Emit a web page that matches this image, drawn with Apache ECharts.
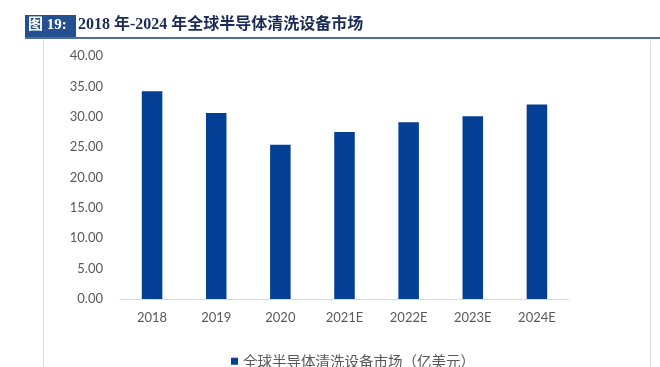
<!DOCTYPE html>
<html>
<head>
<meta charset="utf-8">
<script src="https://cdn.jsdelivr.net/npm/echarts@6/dist/echarts.min.js"></script>
<style>html,body{margin:0;padding:0;background:#fff}#c{width:660px;height:367px}</style>
</head>
<body>
<div id="c"></div>
<script>
var categories = ['2018', '2019', '2020', '2021E', '2022E', '2023E', '2024E'];
var values = [34.2, 30.6, 25.4, 27.5, 29.1, 30.1, 32.0];
var seriesName = '全球半导体清洗设备市场（亿美元）';
var titleTag = '图 19:';
var titleText = '2018 年-2024 年全球半导体清洗设备市场';
var yMin = 0, yMax = 40, yStep = 5;

var chart = echarts.init(document.getElementById('c'), null, {renderer: 'canvas'});
chart.setOption({
  animation: false,
  backgroundColor: '#ffffff',
  graphic: [
    {type: 'rect', left: 25, top: 15, shape: {width: 51, height: 23}, style: {fill: '#24508f'}},
    {type: 'text', left: 28, top: 18, style: {text: titleTag, fill: '#ffffff', font: 'bold 15px "Liberation Serif", "Noto Sans CJK SC"'}},
    {type: 'text', left: 78, top: 17, style: {text: titleText, fill: '#1b2b55', font: 'bold 16px "Liberation Serif", "Noto Sans CJK SC"'}},
    {type: 'rect', left: 25, top: 37, shape: {width: 635, height: 2}, style: {fill: '#4d6f96'}},
    {type: 'rect', left: 43, top: 39, shape: {width: 1, height: 328}, style: {fill: '#dcdcdc'}},
    {type: 'rect', left: 650, top: 39, shape: {width: 1, height: 328}, style: {fill: '#dcdcdc'}}
  ],
  grid: {left: 120, right: 91, top: 56, bottom: 68},
  legend: {
    show: true,
    top: 349,
    left: 226,
    itemWidth: 7,
    itemHeight: 7,
    itemGap: 4,
    icon: 'rect',
    textStyle: {color: '#595959', fontSize: 14.5, fontFamily: '"Noto Sans CJK SC"'},
    data: [seriesName]
  },
  xAxis: {
    type: 'category',
    data: categories,
    axisLine: {show: true, lineStyle: {color: '#d9d9d9', width: 1}},
    axisTick: {show: false},
    axisLabel: {color: '#595959', fontSize: 13, fontFamily: 'Lato', margin: 12}
  },
  yAxis: {
    type: 'value',
    min: yMin,
    max: yMax,
    interval: yStep,
    axisLine: {show: false},
    axisTick: {show: false},
    splitLine: {show: false},
    axisLabel: {
      color: '#595959', fontSize: 13, fontFamily: 'Lato', margin: 17,
      formatter: function (v) { return v.toFixed(2); }
    }
  },
  series: [{
    name: seriesName,
    type: 'bar',
    data: values,
    barWidth: '32%',
    itemStyle: {color: '#043f96'}
  }]
});
</script>
</body>
</html>
